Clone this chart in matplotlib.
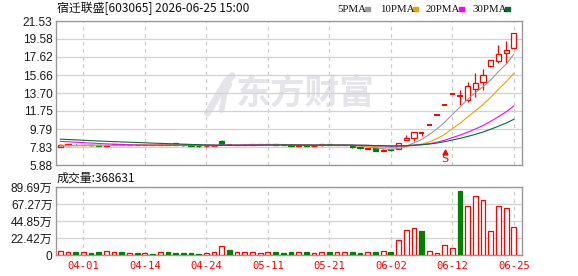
import matplotlib
matplotlib.use('Agg')
import matplotlib.pyplot as plt
import numpy as np
import pandas as pd
from matplotlib.patches import Rectangle

# ---------------- data ----------------
# closes before the visible window (needed for the moving averages)
history_close = [9.35, 9.30, 9.25, 9.20, 9.18, 9.15, 9.12, 9.10, 9.05, 9.00,
                 9.05, 9.00, 8.98, 8.95, 8.90, 8.88, 8.85, 8.78, 8.70, 8.61,
                 8.40, 8.25, 8.10, 8.05, 7.95, 7.90, 7.85, 7.88, 7.87]

open_ = [7.88, 8.10, 8.10, 8.04, 8.07, 8.00, 7.97, 8.05, 8.15, 8.08,
         8.10, 8.05, 8.08, 8.06, 8.12, 8.23, 8.05, 8.01, 7.97, 7.91,
         7.93, 8.48, 8.05, 8.05, 8.07, 8.09, 8.11, 8.12, 8.15, 8.10,
         8.05, 7.95, 8.00, 7.95, 8.00, 8.12, 8.02, 8.05, 7.95, 7.80,
         7.65, 7.68, 7.42, 7.60, 7.61, 8.62, 8.84, 9.31, 10.24, 11.26,
         12.39, 13.63, 13.38, 12.91, 14.17, 14.93, 16.66, 17.20, 18.06, 18.64]
high = [8.14, 8.16, 8.14, 8.09, 8.08, 8.02, 8.07, 8.18, 8.16, 8.12,
        8.11, 8.10, 8.09, 8.14, 8.13, 8.25, 8.06, 8.03, 7.98, 7.95,
        7.98, 8.55, 8.08, 8.09, 8.11, 8.13, 8.14, 8.17, 8.16, 8.11,
        8.06, 8.02, 8.01, 7.99, 8.15, 8.13, 8.07, 8.08, 7.97, 7.82,
        7.75, 7.70, 7.58, 7.63, 8.23, 9.13, 9.42, 9.48, 10.24, 11.26,
        12.39, 13.63, 14.08, 14.89, 15.90, 16.26, 17.26, 18.96, 19.40, 20.26]
low = [7.85, 8.07, 8.01, 8.02, 7.99, 7.93, 7.95, 8.03, 8.06, 8.06,
       8.03, 8.04, 8.04, 8.05, 8.06, 8.03, 7.99, 7.95, 7.88, 7.89,
       7.91, 8.15, 8.02, 8.03, 8.05, 8.07, 8.09, 8.10, 8.08, 8.03,
       7.96, 7.93, 7.93, 7.93, 7.98, 8.00, 8.00, 8.03, 7.78, 7.62,
       7.60, 7.40, 7.38, 7.45, 7.58, 8.60, 8.51, 9.05, 10.24, 11.26,
       12.39, 13.63, 12.37, 12.75, 13.31, 14.02, 16.66, 16.98, 17.00, 18.64]
close = [8.10, 8.12, 8.04, 8.07, 8.01, 7.96, 8.05, 8.15, 8.08, 8.10,
         8.05, 8.08, 8.06, 8.12, 8.08, 8.05, 8.01, 7.97, 7.91, 7.93,
         7.96, 8.19, 8.05, 8.07, 8.09, 8.11, 8.12, 8.15, 8.10, 8.05,
         7.98, 8.00, 7.95, 7.97, 8.12, 8.02, 8.05, 8.06, 7.82, 7.70,
         7.72, 7.45, 7.55, 7.48, 8.23, 8.80, 9.42, 9.31, 10.24, 11.26,
         12.39, 13.63, 13.38, 14.46, 14.82, 15.69, 17.26, 17.99, 18.42, 20.26]
# volume in 万 (10k shares)
volume = [5.3, 4.0, 4.0, 4.0, 2.6, 4.0, 5.3, 4.0, 4.0, 2.6,
          2.6, 2.6, 1.3, 4.0, 4.0, 2.6, 2.6, 2.6, 1.3, 2.6,
          4.0, 11.9, 6.6, 4.0, 4.0, 4.0, 2.6, 4.0, 4.0, 2.6,
          4.0, 4.0, 4.0, 2.6, 4.0, 4.0, 4.0, 4.0, 4.0, 2.6,
          4.0, 4.0, 5.3, 4.0, 19.8, 33.0, 35.6, 32.1, 5.3, 2.6,
          13.2, 9.2, 84.4, 64.6, 77.8, 72.6, 31.7, 64.6, 62.0, 36.8631]

date_ticks_idx = [3, 11, 19, 27, 35, 43, 51, 59]
date_ticks_lbl = ['04-01', '04-14', '04-24', '05-11', '05-21', '06-02', '06-12', '06-25']
price_ticks = [5.88, 7.83, 9.79, 11.75, 13.70, 15.66, 17.62, 19.58, 21.53]
price_tick_lbl = ['5.88', '7.83', '9.79', '11.75', '13.70', '15.66', '17.62', '19.58', '21.53']
vol_ticks = [0, 22.42, 44.85, 67.27, 89.69]
vol_tick_lbl = ['0', '22.42万', '44.85万', '67.27万', '89.69万']
ma_periods = [5, 10, 20, 30]
ma_names = ['5PMA', '10PMA', '20PMA', '30PMA']
ma_colors = ['#9a9a9a', '#f0a000', '#ff00ff', '#00702e']
title = '宿迁联盛[603065] 2026-06-25 15:00'
vol_title = '成交量:368631'
signal_idx = 50

# ---------------- figure ----------------
W, H = 578, 276
fig = plt.figure(figsize=(W / 100, H / 100), dpi=100)
fig.patch.set_facecolor('white')
L, R = 56, 522.3
ax = fig.add_axes([L / W, 1 - 165 / H, (R - L) / W, 144 / H])
axv = fig.add_axes([L / W, 1 - 255 / H, (R - L) / W, 68 / H])

RED = '#ff0000'
GREEN = '#008000'
FRAME = '#999999'
CJK = ['Noto Sans CJK SC', 'DejaVu Sans']
NUM = ['Liberation Sans', 'Noto Sans CJK SC']

o = np.array(open_); h = np.array(high); l = np.array(low); c = np.array(close)
x = np.arange(len(c))

# moving averages
allc = pd.Series(history_close + close)
for p, col in zip(ma_periods, ma_colors):
    ma = allc.rolling(p).mean().values[len(history_close):]
    ax.plot(x, ma, color=col, lw=0.8, zorder=4)

up = c >= o
doji = np.isclose(c, o)
ccol = np.where(up, RED, GREEN)
ax.vlines(x, l, h, colors=ccol, lw=0.9, zorder=2)
body = ~doji
ax.bar(x[body], np.abs(c - o)[body], bottom=np.minimum(o, c)[body], width=0.68,
       facecolor=np.where(up, 'white', GREEN)[body], edgecolor=ccol[body],
       lw=0.9, zorder=3)
ax.hlines(c[doji], x[doji] - 0.36, x[doji] + 0.36, colors=RED, lw=1.4, zorder=3)

# signal marker
ax.plot([signal_idx], [7.25], marker='^', ms=3.5, color=RED, zorder=5, clip_on=False)
ax.text(signal_idx, 6.0, 'S', color=RED, fontsize=8, ha='center', va='bottom',
        family='DejaVu Sans', zorder=5, clip_on=False)

# watermark
ax.text(0.386, 0.50, '东方财富', transform=ax.transAxes, fontsize=25,
        fontweight='bold', family=CJK, color='#e5e5e9', ha='left', va='center', zorder=0.2)
ax.plot([0.325, 0.345, 0.365, 0.378], [0.36, 0.47, 0.58, 0.62], transform=ax.transAxes,
        color='#e5e5e9', lw=5, solid_capstyle='round', zorder=0.2)
ax.plot([0.355, 0.362, 0.372], [0.38, 0.50, 0.56], transform=ax.transAxes,
        color='#e5e5e9', lw=4, solid_capstyle='round', zorder=0.2)

ax.set_xlim(-0.56, 60.1)
ax.set_ylim(price_ticks[0], price_ticks[-1])
ax.set_yticks(price_ticks)
ax.set_yticklabels(price_tick_lbl)
ax.set_xticks(date_ticks_idx)
ax.set_xticklabels([])

# volume
prev = np.array([history_close[-1]] + close[:-1])
vup = c >= prev
vcol = np.where(vup, RED, GREEN)
axv.bar(x, volume, width=0.62, facecolor=np.where(vup, 'white', GREEN),
        edgecolor=vcol, lw=0.9, zorder=3)
axv.set_xlim(-0.56, 60.1)
axv.set_ylim(0, vol_ticks[-1])
axv.set_yticks(vol_ticks)
axv.set_yticklabels(vol_tick_lbl)
axv.set_xticks(date_ticks_idx)
axv.set_xticklabels(date_ticks_lbl)

for a in (ax, axv):
    a.set_axisbelow(True)
    a.yaxis.grid(True, color='#d2d2d2', lw=0.9)
    a.xaxis.grid(True, color='#cccccc', lw=0.9, ls=(0, (3, 3)))
    for s in a.spines.values():
        s.set_color(FRAME)
        s.set_linewidth(1.0)
    a.tick_params(length=0)
    a.tick_params(axis='y', pad=2.5, labelsize=8.6, labelcolor='#1a1a1a')
    for t in a.get_yticklabels():
        t.set_family(NUM)

axv.tick_params(axis='x', pad=4, labelsize=7.6, labelcolor=RED)
for t in axv.get_xticklabels():
    t.set_family('DejaVu Sans Mono')

# texts
fig.text(57 / W, 1 - 8.5 / H, title, fontsize=8.6, family=CJK, color='#111111',
         ha='left', va='center')
fig.text(57 / W, 1 - 178 / H, vol_title, fontsize=8.6, family=CJK, color='#111111',
         ha='left', va='center')

leg_text_x = [337, 380, 426, 472]
leg_sq_x = [365, 413, 459, 505]
for name, col, tx, sx in zip(ma_names, ma_colors, leg_text_x, leg_sq_x):
    fig.text(tx / W, 1 - 9 / H, name, fontsize=7.8, family='Liberation Serif',
             color='#111111', ha='left', va='center')
    fig.add_artist(Rectangle((sx / W, 1 - 11 / H), 5 / W, 4 / H,
                             transform=fig.transFigure, color=col))

fig.savefig('out.png', dpi=100)
